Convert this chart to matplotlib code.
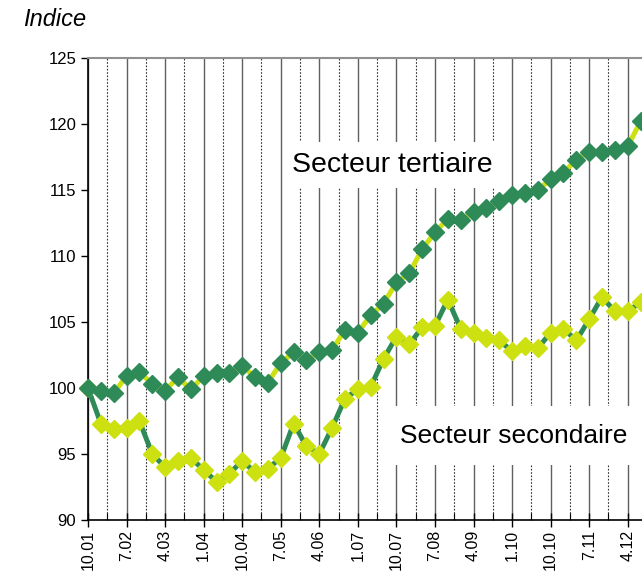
import numpy as np
import matplotlib
matplotlib.use("Agg")
from matplotlib import pyplot as plt
from matplotlib.ticker import MultipleLocator, FixedLocator

plt.rcParams['font.family'] = ['Liberation Sans', 'DejaVu Sans']

# quarterly index, first point = 10.01
tertiaire = [100.0, 99.8, 99.6, 100.9, 101.2, 100.3, 99.8, 100.8, 99.9, 100.9,
             101.1, 101.1, 101.7, 100.8, 100.4, 101.9, 102.7, 102.1, 102.7, 102.9,
             104.4, 104.2, 105.5, 106.4, 108.0, 108.7, 110.5, 111.8, 112.8, 112.7,
             113.3, 113.6, 114.2, 114.6, 114.8, 115.0, 115.8, 116.3, 117.3, 117.9,
             117.9, 118.0, 118.3, 120.2]
secondaire = [100.0, 97.3, 96.9, 97.0, 97.5, 95.0, 94.0, 94.5, 94.7, 93.8,
              92.9, 93.5, 94.5, 93.6, 93.9, 94.7, 97.3, 95.6, 95.0, 97.0,
              99.2, 99.9, 100.1, 102.2, 103.9, 103.3, 104.6, 104.7, 106.7, 104.5,
              104.2, 103.8, 103.6, 102.8, 103.2, 103.0, 104.2, 104.5, 103.6, 105.2,
              106.9, 105.8, 105.8, 106.5]
tick_labels = ["10.01", "7.02", "4.03", "1.04", "10.04", "7.05", "4.06", "1.07",
               "10.07", "7.08", "4.09", "1.10", "10.10", "7.11", "4.12"]

dark = '#2e8b57'
light = '#cde010'

fig = plt.figure(figsize=(6.42, 5.71), dpi=100)
ax = fig.add_axes([88/642, 1-520/571, 1-88/642, (520-58)/571])

x = np.arange(len(tertiaire))

# vertical grid lines
for i in range(0, 30):
    g = i * 1.5
    if i % 2 == 0:
        ax.axvline(g, color='#606060', lw=1.0, zorder=1)
    else:
        ax.axvline(g, color='#333333', lw=0.8, ls=(0, (1.5, 1.5)), zorder=1)

ax.plot(x, secondaire, color=dark, lw=3.6, marker='D', ms=9,
        mfc=light, mec=light, zorder=4, clip_on=False)
ax.plot(x, tertiaire, color=light, lw=3.6, marker='D', ms=9,
        mfc=dark, mec=dark, zorder=5, clip_on=False)

ax.text(15.9, 116.9, "Secteur tertiaire", fontsize=20.5, va='center', ha='left',
        bbox=dict(facecolor='white', edgecolor='none', pad=7), zorder=3)
ax.text(24.3, 96.4, "Secteur secondaire", fontsize=19, va='center', ha='left',
        bbox=dict(facecolor='white', edgecolor='none', pad=13), zorder=3)

ax.set_xlim(0, (642-88)/12.85)
ax.set_ylim(90, 125)
ax.yaxis.set_major_locator(MultipleLocator(5))
ax.set_xticks(np.arange(0, 3*len(tick_labels), 3))
ax.set_xticklabels(tick_labels, rotation=90, fontsize=11.5)
ax.xaxis.set_minor_locator(FixedLocator(np.arange(1.5, 45, 3)))
ax.tick_params(axis='x', which='major', direction='inout', length=10, width=1, pad=2)
ax.tick_params(axis='x', which='minor', direction='in', length=5, width=0.8)
ax.tick_params(axis='y', direction='out', length=5, width=1, labelsize=12)

ax.spines['right'].set_visible(False)
ax.spines['top'].set_color('#909090')
ax.spines['top'].set_linewidth(1.5)
ax.spines['left'].set_linewidth(1.2)
ax.spines['bottom'].set_linewidth(1.2)

fig.text(23/642, 1-8/571, "Indice", style='italic', fontsize=17, va='top', ha='left')

fig.savefig("out.png", dpi=100)
